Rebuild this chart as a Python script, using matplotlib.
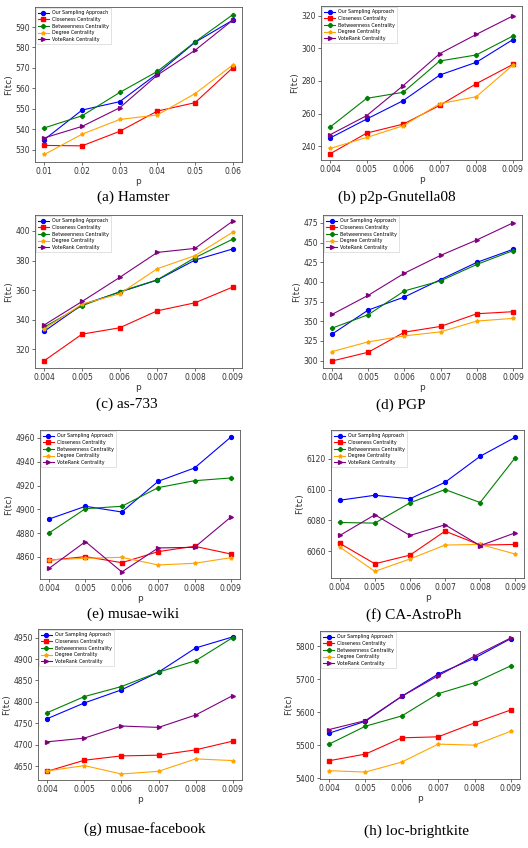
import matplotlib
matplotlib.use("Agg")
import matplotlib.pyplot as plt

W, H = 528, 848

series_names = ["Our Sampling Approach", "Closeness Centrality", "Betweenness Centrality",
                "Degree Centrality", "VoteRank Centrality"]
colors = ["blue", "red", "green", "orange", "purple"]
markers = ["o", "s", "P", "*", ">"]

p_hamster = [0.01, 0.02, 0.03, 0.04, 0.05, 0.06]
p_small = [0.004, 0.005, 0.006, 0.007, 0.008, 0.009]

hamster = [
    [535.0, 549.4, 553.5, 567.2, 582.5, 593.3],
    [532.1, 531.9, 539.0, 548.9, 553.0, 570.0],
    [540.7, 546.6, 558.0, 568.3, 582.7, 596.0],
    [527.7, 537.6, 544.8, 547.0, 557.4, 571.4],
    [535.8, 541.4, 550.5, 566.5, 578.6, 593.3],
]
gnutella = [
    [245.0, 256.6, 267.9, 283.6, 291.4, 305.3],
    [235.3, 248.0, 253.5, 265.0, 278.3, 290.1],
    [251.7, 269.3, 273.0, 292.2, 295.9, 307.5],
    [238.6, 245.3, 252.5, 266.0, 270.3, 289.7],
    [247.0, 258.7, 277.1, 296.7, 308.5, 319.8],
]
as733 = [
    [332.2, 350.1, 358.6, 366.8, 380.3, 387.8],
    [312.3, 330.2, 334.5, 346.0, 351.4, 362.0],
    [335.1, 349.4, 358.9, 367.0, 381.9, 394.4],
    [333.8, 350.5, 357.5, 374.5, 383.3, 399.1],
    [336.5, 352.3, 368.6, 385.5, 388.2, 406.6],
]
pgp = [
    [333.7, 364.3, 380.9, 403.0, 424.8, 441.4],
    [299.6, 310.7, 336.2, 343.5, 359.6, 362.2],
    [341.3, 358.4, 388.6, 401.4, 422.2, 439.7],
    [311.5, 323.9, 331.5, 336.6, 350.3, 353.7],
    [358.8, 383.0, 411.1, 433.7, 453.3, 475.0],
]
wiki = [
    [4891.9, 4902.6, 4897.8, 4923.6, 4934.8, 4960.8],
    [4857.2, 4860.3, 4855.2, 4864.5, 4869.0, 4862.5],
    [4880.2, 4900.6, 4902.6, 4918.3, 4924.1, 4926.4],
    [4857.5, 4858.9, 4859.7, 4853.3, 4854.7, 4859.4],
    [4850.5, 4872.9, 4847.4, 4867.6, 4868.1, 4893.6],
]
astro = [
    [6093.1, 6096.3, 6094.0, 6104.7, 6121.5, 6133.8],
    [6065.2, 6052.0, 6057.6, 6073.1, 6064.1, 6064.5],
    [6078.7, 6078.3, 6091.4, 6100.0, 6091.6, 6120.6],
    [6062.8, 6047.1, 6055.1, 6064.1, 6064.5, 6058.3],
    [6070.3, 6083.7, 6070.3, 6077.2, 6063.7, 6072.0],
]
facebook = [
    [4761.0, 4797.7, 4828.1, 4869.5, 4925.8, 4951.6],
    [4638.3, 4664.1, 4674.2, 4675.8, 4688.3, 4708.6],
    [4775.0, 4812.5, 4835.9, 4869.5, 4896.1, 4950.0],
    [4639.1, 4651.6, 4632.0, 4638.3, 4667.2, 4663.3],
    [4707.0, 4715.6, 4743.8, 4740.6, 4769.5, 4814.8],
]
brightkite = [
    [5536.0, 5572.3, 5647.9, 5715.4, 5763.7, 5823.2],
    [5452.4, 5472.6, 5521.9, 5525.0, 5567.3, 5606.6],
    [5502.8, 5557.2, 5588.4, 5655.9, 5689.2, 5740.6],
    [5422.2, 5418.1, 5448.4, 5502.8, 5499.7, 5542.0],
    [5547.0, 5574.3, 5647.9, 5710.4, 5769.8, 5825.2],
]

captions = ["(a) Hamster", "(b) p2p-Gnutella08", "(c) as-733", "(d) PGP",
            "(e) musae-wiki", "(f) CA-AstroPh", "(g) musae-facebook", "(h) loc-brightkite"]

xt_hamster = ["0.01", "0.02", "0.03", "0.04", "0.05", "0.06"]
xt_small = ["0.004", "0.005", "0.006", "0.007", "0.008", "0.009"]

yticks = [
    [530, 540, 550, 560, 570, 580, 590],
    [240, 260, 280, 300, 320],
    [320, 340, 360, 380, 400],
    [300, 325, 350, 375, 400, 425, 450, 475],
    [4860, 4880, 4900, 4920, 4940, 4960],
    [6060, 6080, 6100, 6120],
    [4650, 4700, 4750, 4800, 4850, 4900, 4950],
    [5400, 5500, 5600, 5700, 5800],
]
ylims = [
    (524, 599.8), (231.5, 325.9), (307.3, 410.8), (290.7, 485),
    (4841.5, 4966.7), (6042.8, 6138.5), (4618, 4970), (5397, 5846),
]

panels = [
    (p_hamster, xt_hamster, hamster),
    (p_small, xt_small, gnutella),
    (p_small, xt_small, as733),
    (p_small, xt_small, pgp),
    (p_small, xt_small, wiki),
    (p_small, xt_small, astro),
    (p_small, xt_small, facebook),
    (p_small, xt_small, brightkite),
]

# axes boxes in pixels: left, right, top, bottom
boxes = [
    (35, 242, 7, 162), (321, 522, 6, 160),
    (35, 242, 215, 368), (323, 522, 215, 368),
    (40, 240, 430, 579), (331, 524, 430, 578),
    (38, 242, 629, 780), (320, 520, 631, 779),
]
cap_pos = [(133, 197), (397, 197), (127, 404), (401, 405),
           (133, 614), (414, 615), (145, 829), (416, 831)]

fig = plt.figure(figsize=(W / 100, H / 100), dpi=100)

for i, ((xs, xtl, data), (l, r, t, b)) in enumerate(zip(panels, boxes)):
    ax = fig.add_axes([l / W, 1 - b / H, (r - l) / W, (b - t) / H])
    for name, c, m, ys in zip(series_names, colors, markers, data):
        ax.plot(xs, ys, color=c, marker=m, markersize=2.8, linewidth=0.8, label=name)
    ax.set_xticks(xs)
    ax.set_xticklabels(xtl)
    ax.set_yticks(yticks[i])
    ax.set_ylim(*ylims[i])
    ax.tick_params(labelsize=5.5, length=2, width=0.5, pad=1.5, colors="#333333")
    for sp in ax.spines.values():
        sp.set_linewidth(0.6)
        sp.set_color("#555555")
    ax.set_xlabel("p", fontsize=6.5, labelpad=1, color="#333333")
    ax.set_ylabel("F(tc)", fontsize=6.5, labelpad=1.5, color="#333333")
    leg = ax.legend(loc="upper left", fontsize=3.4, handlelength=2.2, handletextpad=0.8,
                    borderpad=0.4, labelspacing=0.35, borderaxespad=0.3,
                    framealpha=1, fancybox=False)
    leg.get_frame().set_linewidth(0.4)
    cx, cy = cap_pos[i]
    fig.text(cx / W, 1 - cy / H, captions[i], fontsize=11, family="Liberation Serif",
             ha="center", va="center")

fig.savefig("out.png", dpi=100)
